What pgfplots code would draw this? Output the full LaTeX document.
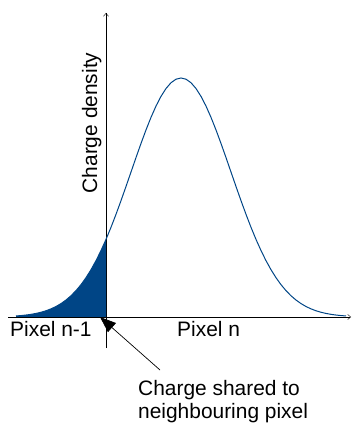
\documentclass[border=0pt]{standalone}
\usepackage{fontspec}
\setmainfont{Liberation Sans}
\usepackage{pgfplots}
\pgfplotsset{compat=1.18}
\usetikzlibrary{arrows.meta}
\definecolor{lodarkblue}{RGB}{0,69,134}

\begin{document}
\begin{tikzpicture}
\useasboundingbox (0,0) rectangle (355bp,431bp);
\begin{axis}[
    at={(106bp,114bp)}, anchor=origin,
    x=50bp, y=239bp,
    xmin=-1.96, xmax=4.90,
    ymin=-0.130, ymax=1.272,
    axis lines=middle,
    axis line style={black, line width=0.9bp, -{Straight Barb[length=3bp,width=5bp,line width=0.4bp]}},
    ticks=none,
    clip=false,
]
% shared part (left of the pixel border)
\addplot[fill=lodarkblue, draw=none] coordinates {
(-1.8,0.0043) (-1.7,0.0060) (-1.6,0.0082) (-1.5,0.0111) (-1.4,0.0149)
(-1.3,0.0198) (-1.2,0.0261) (-1.1,0.0340) (-1.0,0.0439) (-0.9,0.0561)
(-0.8,0.0710) (-0.7,0.0889) (-0.6,0.1103) (-0.5,0.1353) (-0.4,0.1645)
(-0.3,0.1979) (-0.2,0.2357) (-0.1,0.2780) (0.0,0.3247)
} \closedcycle;
% charge density curve
\addplot[lodarkblue, line width=1bp, mark=none] coordinates {
(-1.8,0.0043) (-1.7,0.0060) (-1.6,0.0082) (-1.5,0.0111) (-1.4,0.0149)
(-1.3,0.0198) (-1.2,0.0261) (-1.1,0.0340) (-1.0,0.0439) (-0.9,0.0561)
(-0.8,0.0710) (-0.7,0.0889) (-0.6,0.1103) (-0.5,0.1353) (-0.4,0.1645)
(-0.3,0.1979) (-0.2,0.2357) (-0.1,0.2780) (0.0,0.3247) (0.1,0.3753)
(0.2,0.4296) (0.3,0.4868) (0.4,0.5461) (0.5,0.6065) (0.6,0.6670)
(0.7,0.7261) (0.8,0.7827) (0.9,0.8353) (1.0,0.8825) (1.1,0.9231)
(1.2,0.9560) (1.3,0.9802) (1.4,0.9950) (1.5,1.0000) (1.6,0.9950)
(1.7,0.9802) (1.8,0.9560) (1.9,0.9231) (2.0,0.8825) (2.1,0.8353)
(2.2,0.7827) (2.3,0.7261) (2.4,0.6670) (2.5,0.6065) (2.6,0.5461)
(2.7,0.4868) (2.8,0.4296) (2.9,0.3753) (3.0,0.3247) (3.1,0.2780)
(3.2,0.2357) (3.3,0.1979) (3.4,0.1645) (3.5,0.1353) (3.6,0.1103)
(3.7,0.0889) (3.8,0.0710) (3.9,0.0561) (4.0,0.0439) (4.1,0.0340)
(4.2,0.0261) (4.3,0.0198) (4.4,0.0149) (4.5,0.0111) (4.6,0.0082)
(4.7,0.0060) (4.8,0.0043)
};
\end{axis}
\begin{scope}[every node/.style={inner sep=0pt, font=\fontsize{21}{25}\selectfont}]
\node[rotate=90, anchor=base] at (97bp,308bp) {Charge density};
\node[anchor=base west] at (10bp,94bp) {Pixel n-1};
\node[anchor=base west] at (177bp,94bp) {Pixel n};
\node[anchor=base west] at (138bp,36bp) {Charge shared to};
\node[anchor=base west] at (138bp,13bp) {neighbouring pixel};
\end{scope}
\draw[line width=0.7bp, -{Triangle[length=16bp,width=12bp]}] (160bp,61bp) -- (100bp,114bp);
\end{tikzpicture}
\end{document}
